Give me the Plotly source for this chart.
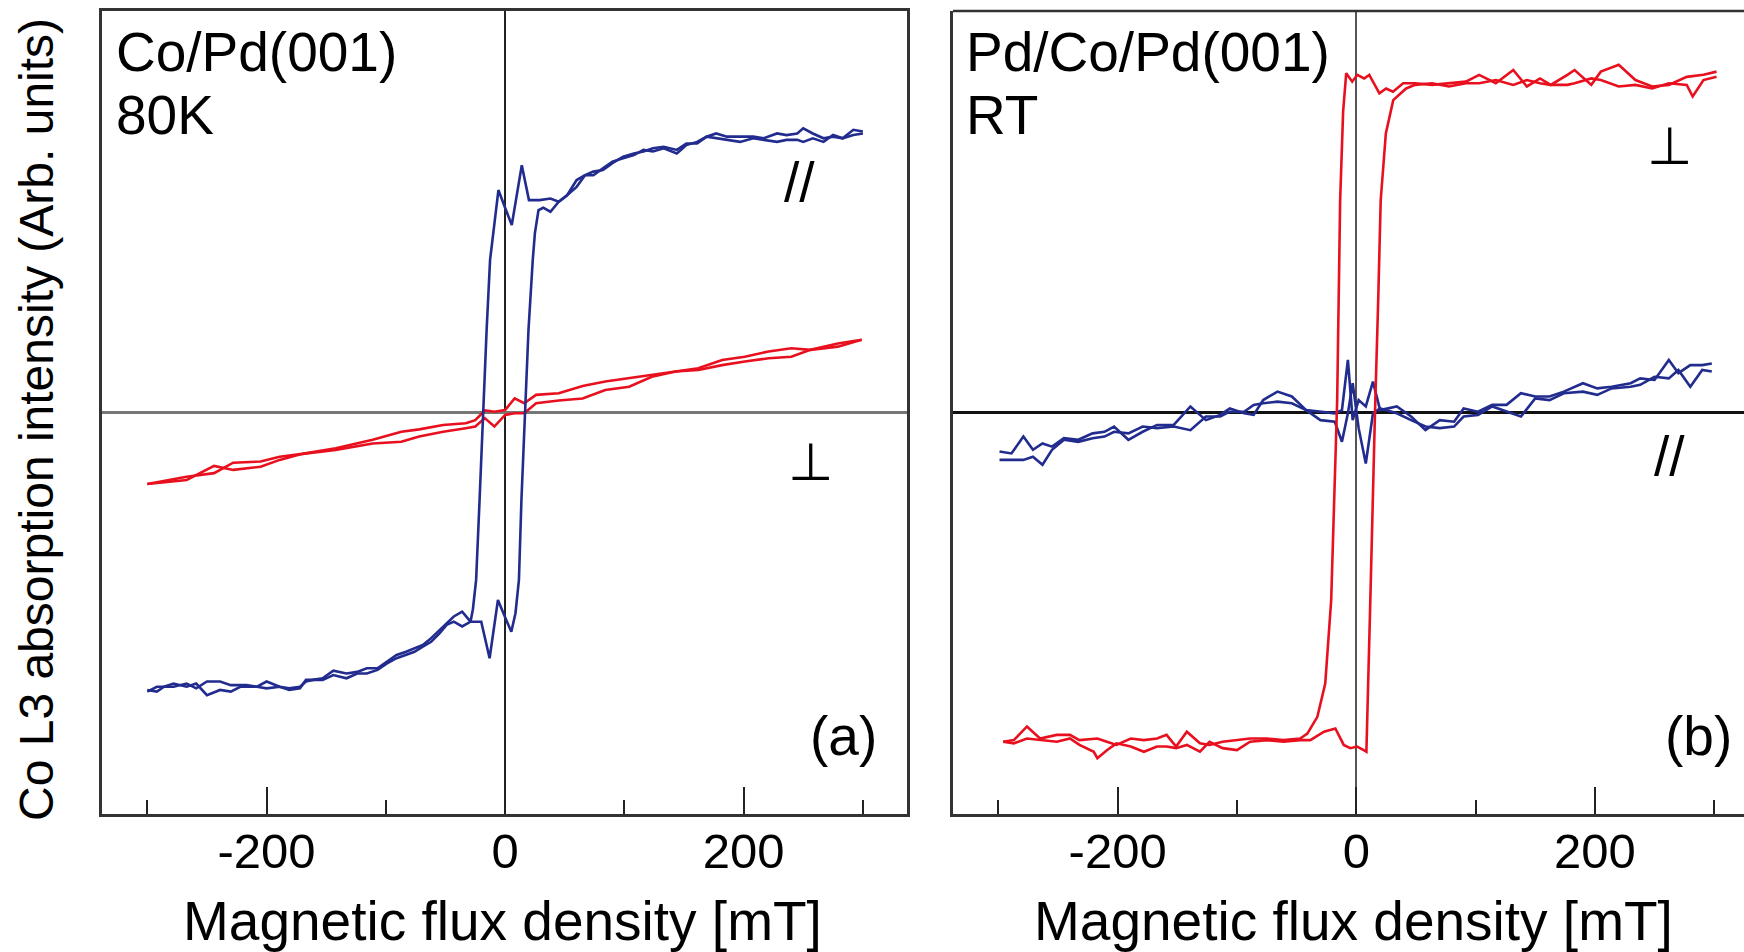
import plotly.graph_objects as go

# ---------------- data ----------------
# Panel (a) Co/Pd(001) 80K, in-plane (//) loop, blue
A_PAR_DOWN_X = [-300, -292, -286, -278, -267, -259, -250, -239, -230, -222, -217, -208, -200, -189, -181, -172,
                -167, -161, -153, -144, -133, -124, -116, -107, -99, -91, -83, -76, -69, -62, -55, -49, -43, -36,
                -29, -27, -24.3, -21.4, -18.5, -15.5, -12.6, -8, -5.6, 0, 5.6, 14, 20, 29,
                38, 45, 52, 60, 67, 74, 82, 90, 99, 108, 116, 124, 133, 144, 152, 161, 169, 177, 186, 197,
                208, 217, 228, 236, 245, 250, 258, 267, 275, 283, 292, 300]
A_PAR_DOWN_Y = [-0.691, -0.695, -0.683, -0.683, -0.675, -0.687, -0.670, -0.670, -0.679, -0.679, -0.679, -0.683,
                -0.670, -0.683, -0.687, -0.683, -0.670, -0.666, -0.662, -0.643, -0.650, -0.646, -0.637, -0.637,
                -0.621, -0.604, -0.596, -0.587, -0.579, -0.562, -0.542, -0.525, -0.508, -0.496,
                -0.521, -0.49, -0.417, -0.218, 0.0, 0.205, 0.38, 0.50, 0.554, 0.51, 0.467, 0.616, 0.529, 0.529,
                0.533, 0.525, 0.541, 0.579, 0.591, 0.600, 0.604, 0.621, 0.637, 0.645, 0.650, 0.658, 0.662, 0.654,
                0.670, 0.670, 0.687, 0.695, 0.687, 0.687, 0.687, 0.683, 0.695, 0.691, 0.695, 0.708, 0.695, 0.683,
                0.687, 0.683, 0.704, 0.700]
A_PAR_UP_X = [-300, -292, -286, -278, -267, -259, -250, -239, -230, -222, -217, -208, -200, -189, -181, -172,
              -167, -161, -153, -144, -133, -124, -116, -107, -99, -91, -83, -76, -69, -62, -55, -49, -43, -36,
              -29, -20, -13, -6, 0, 5.2, 8.7, 11.6, 13.7, 16.5, 19.6, 23.2, 25, 28, 32,
              38, 45, 52, 60, 67, 74, 82, 90, 99, 108, 116, 124, 133, 144, 152, 161, 169, 177, 186, 197,
              208, 217, 228, 236, 245, 250, 258, 267, 275, 283, 292, 300]
A_PAR_UP_Y = [-0.695, -0.683, -0.683, -0.675, -0.683, -0.675, -0.704, -0.691, -0.695, -0.683, -0.683, -0.683,
              -0.687, -0.683, -0.691, -0.687, -0.666, -0.666, -0.666, -0.654, -0.662, -0.650, -0.650, -0.641,
              -0.625, -0.612, -0.604, -0.596, -0.583, -0.571, -0.550, -0.529, -0.521, -0.533,
              -0.521, -0.521, -0.612, -0.467, -0.51, -0.546, -0.50, -0.417, -0.218, 0.0, 0.205, 0.38, 0.447,
              0.504, 0.51,
              0.500, 0.525, 0.541, 0.562, 0.591, 0.591, 0.608, 0.625, 0.633, 0.641, 0.654, 0.650, 0.658, 0.645,
              0.666, 0.674, 0.687, 0.683, 0.679, 0.674, 0.683, 0.679, 0.674, 0.679, 0.679, 0.674, 0.683, 0.674,
              0.691, 0.683, 0.691, 0.695]

# Panel (a) perpendicular loop, red
A_PERP_X = [-300, -267, -244, -228, -205, -189, -170, -142, -111, -87, -72, -52, -33, -25, -17, -9, 0, 8, 16,
            26, 45, 65, 84, 104, 123, 143, 162, 182, 201, 221, 240, 256, 279, 299]
A_PERP_DOWN_Y = [-0.178, -0.160, -0.151, -0.125, -0.122, -0.110, -0.103, -0.089, -0.068, -0.048, -0.042, -0.031,
                 -0.027, -0.019, 0.005, 0.002, 0.006, 0.035, 0.023, 0.044, 0.048, 0.066, 0.077, 0.085, 0.093,
                 0.102, 0.110, 0.131, 0.139, 0.152, 0.160, 0.156, 0.172, 0.181]
A_PERP_UP_Y = [-0.178, -0.168, -0.133, -0.143, -0.135, -0.118, -0.103, -0.093, -0.077, -0.073, -0.060, -0.048,
               -0.039, -0.035, -0.014, -0.035, -0.006, -0.002, -0.002, 0.023, 0.030, 0.035, 0.056, 0.064, 0.089,
               0.102, 0.106, 0.118, 0.127, 0.135, 0.139, 0.156, 0.164, 0.181]

# Panel (b) Pd/Co/Pd(001) RT, perpendicular loop, red
B_PERP_DOWN_X = [-296, -287, -276, -265, -251, -240, -232, -220, -217, -209, -201, -189, -178, -167, -159, -151,
                 -142, -131, -123, -112, -100, -89, -75, -61, -47, -41,
                 -32.6, -26, -21, -18.6, -16, -13.5, -11, -8.4,
                 -3.4, 0.9, 6.6, 10.9, 19.4, 25, 30.8, 39.3, 49.3, 63.5, 77.7, 91.9, 103, 117, 131.6, 143, 154,
                 163, 177, 183, 197, 205, 220, 234, 248, 262, 277, 291, 302]
B_PERP_DOWN_Y = [-0.820, -0.816, -0.782, -0.812, -0.803, -0.803, -0.816, -0.812, -0.812, -0.820, -0.828, -0.812,
                 -0.816, -0.812, -0.803, -0.832, -0.795, -0.824, -0.828, -0.820, -0.816, -0.812, -0.812, -0.816,
                 -0.812, -0.800,
                 -0.758, -0.675, -0.467, -0.218, 0.03, 0.529, 0.75, 0.845,
                 0.824, 0.841, 0.832, 0.841, 0.795, 0.807, 0.799, 0.820, 0.820, 0.816, 0.820, 0.824, 0.841, 0.820,
                 0.853, 0.812, 0.832, 0.816, 0.841, 0.853, 0.816, 0.849, 0.866, 0.828, 0.812, 0.816, 0.836, 0.841,
                 0.849]
B_PERP_UP_X = [-296, -287, -276, -265, -251, -240, -232, -220, -217, -209, -201, -189, -178, -167, -159, -151,
               -142, -131, -123, -112, -100, -89, -75, -61, -47, -38.5, -27, -17.5, -10.5, -5, 0.7, 6.3, 8.5,
               11.8, 13.6, 15.7, 18.4, 20.5, 24.8, 31,
               41.8, 49.3, 63.5, 77.7, 91.9, 103, 117, 131.6, 143, 154, 163, 177, 183, 197, 205, 220, 234, 248,
               262, 277, 282, 291, 302]
B_PERP_UP_Y = [-0.820, -0.824, -0.812, -0.816, -0.820, -0.812, -0.828, -0.845, -0.861, -0.841, -0.824, -0.832,
               -0.845, -0.832, -0.832, -0.836, -0.828, -0.845, -0.820, -0.836, -0.841, -0.820, -0.816, -0.820,
               -0.816, -0.816, -0.795, -0.787, -0.828, -0.836, -0.832, -0.841, -0.845,
               -0.467, -0.218, 0.0, 0.28, 0.529, 0.695, 0.778,
               0.807, 0.816, 0.820, 0.812, 0.820, 0.820, 0.828, 0.816, 0.828, 0.820, 0.816, 0.816, 0.820, 0.832,
               0.828, 0.812, 0.816, 0.807, 0.820, 0.816, 0.787, 0.828, 0.836]

# Panel (b) in-plane (//) loop, blue
B_PAR_X = [-299, -289, -279, -271, -263, -255, -245, -233, -221, -211, -203, -191, -179, -167, -153, -139, -126,
           -114, -106, -94, -86, -78, -66, -54, -42, -30, -18, -12, -7, -3, 2, 8, 14, 20, 34, 46, 58, 70, 82, 90,
           102, 114, 126, 138, 150, 162, 174, 190, 202, 214, 230, 238, 250, 262, 270, 280, 290, 298]
B_PAR_DOWN_Y = [-0.097, -0.102, -0.060, -0.093, -0.077, -0.085, -0.064, -0.068, -0.052, -0.048, -0.035, -0.068,
                -0.048, -0.031, -0.031, 0.015, -0.019, -0.006, 0.010, -0.002, -0.006, 0.031, 0.052, 0.040, 0.006,
                0.002, -0.002, 0.006, 0.131, -0.019, 0.031, 0.015, 0.077, 0.006, 0.015, -0.010, -0.044, -0.019,
                -0.023, 0.010, 0.002, 0.019, 0.019, 0.048, 0.040, 0.040, 0.052, 0.073, 0.060, 0.064, 0.073, 0.085,
                0.081, 0.131, 0.098, 0.118, 0.118, 0.122]
B_PAR_UP_Y = [-0.118, -0.118, -0.118, -0.110, -0.130, -0.093, -0.068, -0.073, -0.064, -0.060, -0.048, -0.052,
              -0.035, -0.039, -0.035, -0.044, -0.010, -0.010, 0.002, 0.002, 0.019, 0.023, 0.027, 0.023, 0.006,
              -0.019, -0.023, -0.073, -0.002, 0.073, -0.039, -0.127, -0.002, 0.010, -0.002, -0.019, -0.035,
              -0.039, -0.035, -0.010, -0.006, 0.015, 0.002, -0.010, 0.035, 0.031, 0.048, 0.052, 0.044, 0.060,
              0.064, 0.069, 0.089, 0.085, 0.106, 0.064, 0.106, 0.102]

MAJOR_TICKS = [-200, 0, 200]
MAJOR_LABELS = ["-200", "0", "200"]
MINOR_TICKS = [-300, -100, 100, 300]

# ---------------- figure ----------------
BLUE = "#222c8e"
RED = "#e8101e"
FONT = "Liberation Sans, Arial, Helvetica, sans-serif"
W, H = 1744, 952

fig = go.Figure()

def add(x, y, color, xa, ya):
    fig.add_trace(go.Scatter(x=x, y=y, mode="lines", xaxis=xa, yaxis=ya,
                             line=dict(color=color, width=2.6), showlegend=False,
                             hoverinfo="skip"))

add(A_PERP_X, A_PERP_DOWN_Y, RED, "x", "y")
add(A_PERP_X, A_PERP_UP_Y, RED, "x", "y")
add(A_PAR_DOWN_X, A_PAR_DOWN_Y, BLUE, "x", "y")
add(A_PAR_UP_X, A_PAR_UP_Y, BLUE, "x", "y")

add(B_PAR_X, B_PAR_DOWN_Y, BLUE, "x2", "y2")
add(B_PAR_X, B_PAR_UP_Y, BLUE, "x2", "y2")
add(B_PERP_DOWN_X, B_PERP_DOWN_Y, RED, "x2", "y2")
add(B_PERP_UP_X, B_PERP_UP_Y, RED, "x2", "y2")

def px(x):
    return x / W

def py(y):
    return 1 - y / H

YDOM = [py(814), py(11)]

xcommon = dict(
    showgrid=False, ticks="inside", ticklen=27, tickwidth=1.6, tickcolor="#222",
    tickvals=MAJOR_TICKS, ticktext=MAJOR_LABELS,
    tickfont=dict(family=FONT, size=49, color="#000"),
    minor=dict(tickvals=MINOR_TICKS, ticks="inside", ticklen=14, tickwidth=1.6, tickcolor="#222"),
    showline=True, linecolor="#333", linewidth=2.5, zeroline=True,
    ticklabelstandoff=-8,
)
ycommon = dict(showgrid=False, showticklabels=False, ticks="", range=[-1, 1],
               showline=True, linecolor="#333", linewidth=2.5, zeroline=True)

fig.update_layout(
    width=W, height=H, margin=dict(l=0, r=0, t=0, b=0),
    paper_bgcolor="white", plot_bgcolor="white",
    xaxis=dict(domain=[px(102), px(907)], range=[-338, 337], anchor="y", mirror=True,
               zerolinecolor="#222", zerolinewidth=1.6, **xcommon),
    yaxis=dict(domain=YDOM, anchor="x", mirror=True, zerolinecolor="#777", zerolinewidth=2.5, **ycommon),
    xaxis2=dict(domain=[px(953), 1.0], range=[-338, 325], anchor="y2", mirror=False,
                zerolinecolor="#555", zerolinewidth=2, **xcommon),
    yaxis2=dict(domain=YDOM, anchor="x2", mirror=False, zerolinecolor="#111", zerolinewidth=3, **ycommon),
)

# top border of panel (b) (its right side is cut off in the original)
fig.add_shape(type="line", xref="x2 domain", yref="y2 domain", x0=0, x1=1, y0=1, y1=1,
              line=dict(color="#333", width=2.5))

def txt(s, x, y, size=55, xanchor="left", angle=0, family=FONT):
    fig.add_annotation(text=s, x=px(x), y=py(y), xref="paper", yref="paper", showarrow=False,
                       xanchor=xanchor, yanchor="middle", textangle=angle,
                       font=dict(family=family, size=size, color="#000"))

txt("Co/Pd(001)", 114, 52)
txt("80K", 114, 115)
txt("Pd/Co/Pd(001)", 964, 52)
txt("RT", 964, 115)
txt("(a)", 879, 736, xanchor="right")
txt("(b)", 1734, 736, xanchor="right")
txt("//", 799, 182, xanchor="center")
txt("⊥", 810, 462, size=52, xanchor="center", family="DejaVu Sans")
txt("⊥", 1669, 146, size=52, xanchor="center", family="DejaVu Sans")
txt("//", 1669, 456, xanchor="center")
txt("Magnetic flux density [mT]", 502, 921, xanchor="center")
txt("Magnetic flux density [mT]", 1353, 921, xanchor="center")
txt("Co L3 absorption intensity (Arb. units)", 36, 420, size=48, xanchor="center", angle=-90)

fig.write_html("out.html")
